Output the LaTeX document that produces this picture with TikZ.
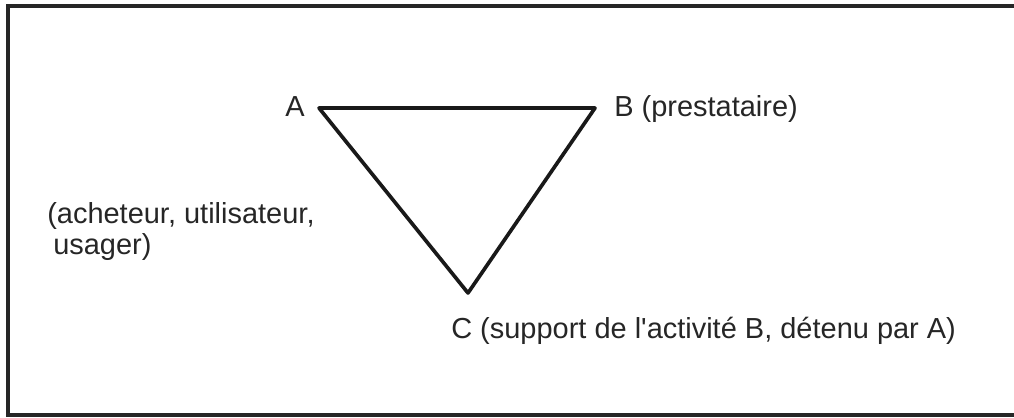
\documentclass[tikz,border=0pt]{standalone}
\usepackage{fontspec}
\setmainfont{Liberation Sans}[Ligatures=TeXOff]
\usetikzlibrary{positioning}
\tikzset{
  framebox/.style={draw=black!85,line width=3pt},
  edgeline/.style={draw=black!90,line width=2.6pt,line join=round},
  vlabel/.style={inner sep=0pt,anchor=base west,font=\fontsize{20.6}{22.5}\selectfont,text=black!85}
}
\begin{document}
\begin{tikzpicture}[x=0.025cm,y=-0.025cm]
  \useasboundingbox (0,0) rectangle (1014,417);
  %% frame
  \draw[framebox] (8,6) rectangle (1030,415);

  %% triangle
  \coordinate (A) at (319,108);
  \coordinate (B) at (595,108);
  \coordinate (C) at (468,293);
  \draw[edgeline] (A) -- (B) -- (C) -- cycle;

  %% labels
  \node[vlabel] (labA) at (285,116) {A};
  \node[vlabel] (labB) at (614,116) {B (prestataire)};
  \node[vlabel] (labA1) at (47,223) {(acheteur, utilisateur,};
  \node[vlabel] (labA2) at (53,254) {usager)};
  \node[vlabel] (labC) at (451,338) {C (support de l'activité B, détenu par A)};
\end{tikzpicture}
\end{document}
